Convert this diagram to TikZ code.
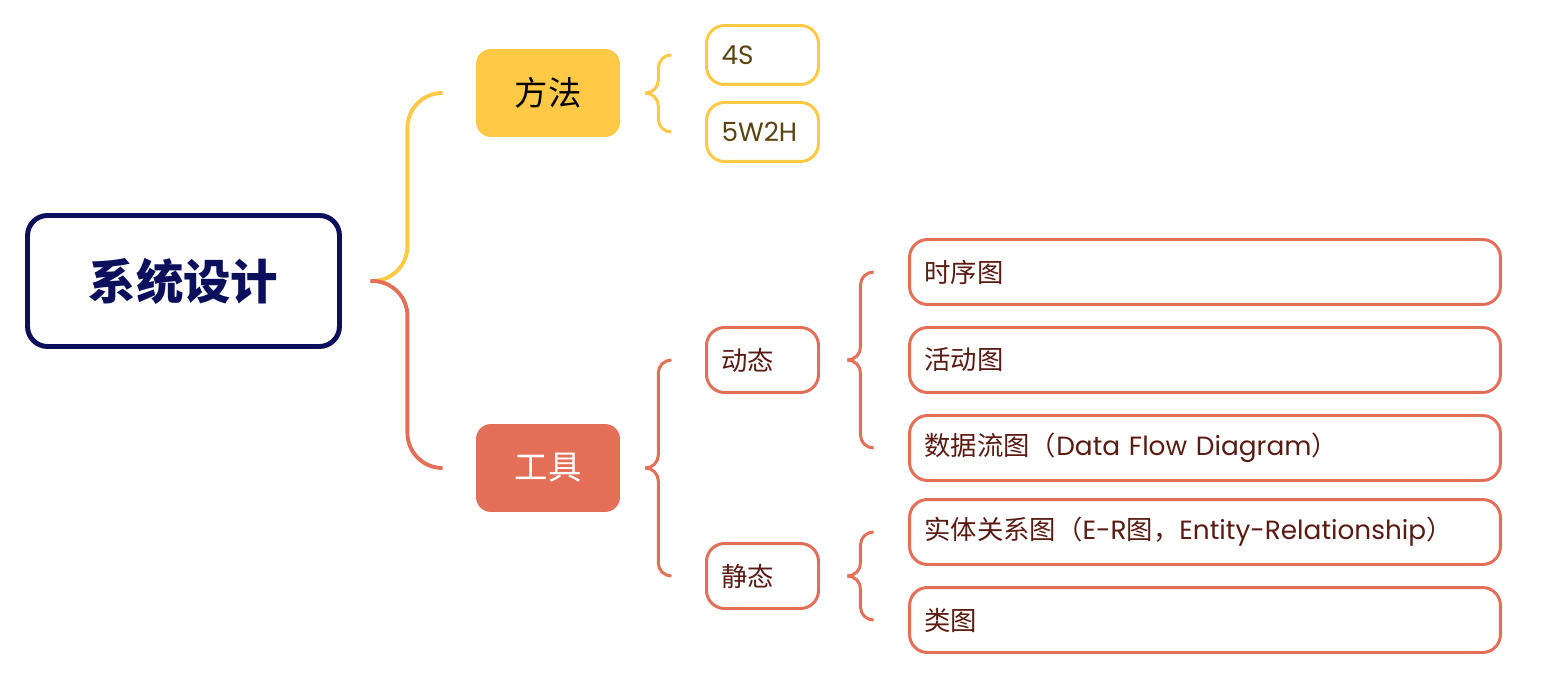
\documentclass[tikz,border=0pt]{standalone}
\usepackage{fontspec}
\setmainfont{Noto Sans CJK SC}
\newfontfamily\lat{Poppins}
\usetikzlibrary{positioning, calc}
\definecolor{Sun}{HTML}{FFC845}
\definecolor{Coral}{HTML}{E46F57}
\definecolor{Navy}{HTML}{0B0F5C}
\definecolor{Umber}{HTML}{5C4412}
\definecolor{Rust}{HTML}{5A1B12}
\tikzset{
  rootbox/.style={rectangle, rounded corners=0.4cm, draw=Navy, line width=2.8pt,
                  minimum width=6.24cm, minimum height=2.62cm,
                  font=\bfseries\fontsize{27}{31}\selectfont, text=Navy},
  topicbox/.style={rectangle, rounded corners=0.3cm, fill=#1, draw=none,
                  minimum width=2.88cm, minimum height=1.76cm,
                  font=\fontsize{19}{23}\selectfont},
  itembox/.style={rectangle, rounded corners=0.36cm, draw=#1, line width=1.7pt,
                  fill=white, minimum height=1.3cm, inner xsep=0.3cm,
                  align=left, font=\fontsize{15}{18}\selectfont},
  shortbox/.style={itembox=#1, text width=1.64cm},
  leafbox/.style={itembox=Coral, text width=11.22cm, text=Rust},
  brc/.style={draw=#1, line width=1.7pt, rounded corners=0.26cm},
}
\begin{document}
\begin{tikzpicture}[x=0.02cm, y=-0.02cm]
  \useasboundingbox (0,0) rectangle (1544,678);
  % root and topics
  \node[rootbox] (root) at (183.5,281) {系统设计};
  \node[topicbox=Sun, text=black] (fangfa) at (548,93) {方法};
  \node[topicbox=Coral, text=white] (gongju) at (548,468) {工具};
  % method items
  \node[shortbox=Sun, text=Umber, minimum height=1.18cm] (s4) at (762.5,55) {\lat 4S};
  \node[shortbox=Sun, text=Umber, minimum height=1.18cm] (s5w) at (762.5,132) {\lat 5W2H};
  % tool items
  \node[shortbox=Coral, text=Rust] (dong) at (762.5,360) {动态};
  \node[shortbox=Coral, text=Rust] (jing) at (762.5,576) {静态};
  % leaves
  \node[leafbox] (l1) at (1205,272) {时序图};
  \node[leafbox] (l2) at (1205,360) {活动图};
  \node[leafbox] (l3) at (1205,448) {数据流图（{\lat Data Flow Diagram}）};
  \node[leafbox] (l4) at (1205,532) {实体关系图（{\lat E-R}图，{\lat Entity-Relationship}）};
  \node[leafbox] (l5) at (1205,620) {类图};
  % braces
  \draw[brc=Sun, line width=2.2pt, rounded corners=0.7cm]
    ([xshift=0.57cm]root.east) -- ++(37,0) |- ([xshift=-0.66cm]fangfa.west);
  \draw[brc=Coral, line width=2.2pt, rounded corners=0.7cm]
    ([xshift=0.57cm]root.east) -- ++(37,0) |- ([xshift=-0.66cm]gongju.west);
  \draw[brc=Sun] ([xshift=0.5cm]fangfa.east) -- ++(13,0) |- ([xshift=-0.68cm]s4.west);
  \draw[brc=Sun] ([xshift=0.5cm]fangfa.east) -- ++(13,0) |- ([xshift=-0.68cm]s5w.west);
  \draw[brc=Coral] ([xshift=0.5cm]gongju.east) -- ++(13,0) |- ([xshift=-0.68cm]dong.west);
  \draw[brc=Coral] ([xshift=0.5cm]gongju.east) -- ++(13,0) |- ([xshift=-0.68cm]jing.west);
  \draw[brc=Coral] ([xshift=0.55cm]dong.east) -- ++(13,0) |- ([xshift=-0.72cm]l1.west);
  \draw[brc=Coral] ([xshift=0.55cm]dong.east) -- ++(13,0) |- ([xshift=-0.72cm]l3.west);
  \draw[brc=Coral] ([xshift=0.55cm]jing.east) -- ++(13,0) |- ([xshift=-0.72cm]l4.west);
  \draw[brc=Coral] ([xshift=0.55cm]jing.east) -- ++(13,0) |- ([xshift=-0.72cm]l5.west);
\end{tikzpicture}
\end{document}
